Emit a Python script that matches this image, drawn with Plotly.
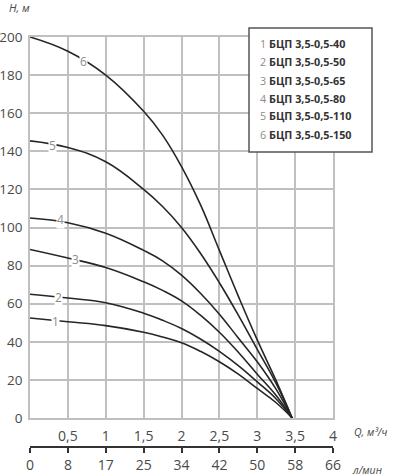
import plotly.graph_objects as go

# Data
q_m3h = [0, 0.5, 1.0, 1.5, 1.75, 2.0, 2.25, 2.5, 2.75, 3.0, 3.25, 3.46]
curves = {
    "1": [52.5, 50.5, 48.5, 45, 42.5, 39.5, 35, 29.5, 23, 15.5, 8, 0],
    "2": [65, 63, 60.5, 55, 51.3, 47, 41.5, 35, 27.5, 19, 10, 0],
    "3": [88.5, 84, 79, 71.5, 67, 61.5, 54, 45, 34.5, 23, 11.8, 0],
    "4": [105, 102.5, 97, 88, 82.5, 75, 65.5, 54.5, 42, 29.5, 15, 0],
    "5": [145.5, 142, 134.5, 120, 111, 100, 86.5, 71, 54, 36, 18, 0],
    "6": [200, 192.5, 180, 161, 148.5, 132, 112, 88, 64, 41, 19.5, 0],
}
model_names = ["БЦП 3,5-0,5-40", "БЦП 3,5-0,5-50", "БЦП 3,5-0,5-65",
               "БЦП 3,5-0,5-80", "БЦП 3,5-0,5-110", "БЦП 3,5-0,5-150"]
# curve number label anchor (Q, H)
label_q = [0.34, 0.38, 0.60, 0.40, 0.30, 0.70]
label_h = [50.5, 63.5, 83, 104, 143, 187]

x_ticks = [0, 0.5, 1, 1.5, 2, 2.5, 3, 3.5, 4]
x_ticktext = ["", "0,5", "1", "1,5", "2", "2,5", "3", "3,5", "4"]
lmin_ticktext = ["0", "8", "17", "25", "34", "42", "50", "58", "66"]

W, H = 394, 476
ML, MR, MT, MB = 30, 61, 37, 29
PW, PH = W - ML - MR, H - MT - MB


def px(xpix):
    return (xpix - ML) / PW


def py(ypix):
    return (H - MB - ypix) / PH


FONT = "Open Sans"
GRID = "#c0c0c0"
TXT = "#4a4a4a"

fig = go.Figure()
for name, vals in curves.items():
    fig.add_trace(go.Scatter(x=q_m3h, y=vals, mode="lines",
                             line=dict(color="#262626", width=1.6, shape="spline", smoothing=1.2),
                             hoverinfo="skip", showlegend=False))
# dummy trace for second (l/min) axis
fig.add_trace(go.Scatter(x=[0, 4], y=[None, None], xaxis="x2", yaxis="y",
                         mode="markers", showlegend=False, hoverinfo="skip"))

for i, k in enumerate(curves):
    fig.add_annotation(x=label_q[i], y=label_h[i], text=k, showarrow=False,
                       font=dict(family=FONT, size=12, color="#8c8c8c"),
                       bgcolor="white", borderpad=0)

y_dom0 = py(418)
fig.update_layout(
    template="none",
    width=W, height=H, margin=dict(l=ML, r=MR, t=MT, b=MB, autoexpand=False),
    paper_bgcolor="white", plot_bgcolor="white",
    font=dict(family=FONT, color=TXT),
    xaxis=dict(range=[0, 4], tickvals=x_ticks, ticktext=x_ticktext,
               showgrid=True, gridcolor=GRID, gridwidth=1.7,
               showline=True, mirror=True, linecolor=GRID, linewidth=1.7,
               zeroline=False, ticks="", ticklabelstandoff=4, automargin=False,
               tickfont=dict(size=14, color=TXT), anchor="y"),
    xaxis2=dict(range=[0, 4], tickvals=x_ticks, ticktext=lmin_ticktext,
                overlaying="x", anchor="free", position=0, side="bottom",
                showgrid=False, zeroline=False, showline=True, automargin=False,
                linecolor="#333333", linewidth=1.6, ticks="outside",
                ticklen=5, tickwidth=1.6, tickcolor="#333333",
                tickfont=dict(size=14, color=TXT)),
    yaxis=dict(range=[0, 200], dtick=20, domain=[y_dom0, 1],
               showgrid=True, gridcolor=GRID, gridwidth=1.7,
               showline=True, mirror=True, linecolor=GRID, linewidth=1.7,
               zeroline=False, ticks="", ticklabelstandoff=3, automargin=False,
               tickfont=dict(size=13.5, color=TXT)),
)

# axis titles
fig.add_annotation(xref="paper", yref="paper", x=px(7), y=py(8), xanchor="left", yanchor="middle",
                   text="<i>H, м</i>", showarrow=False, font=dict(family=FONT, size=11, color=TXT))
fig.add_annotation(xref="paper", yref="paper", x=px(352), y=py(432), xanchor="left", yanchor="middle",
                   text="<i>Q, м³/ч</i>", showarrow=False, font=dict(family=FONT, size=10.5, color=TXT))
fig.add_annotation(xref="paper", yref="paper", x=px(350), y=py(470), xanchor="left", yanchor="middle",
                   text="<i>л/мин</i>", showarrow=False, font=dict(family=FONT, size=10.5, color=TXT))

# legend box
fig.add_shape(type="rect", xref="paper", yref="paper", x0=px(249), x1=px(372), y0=py(152), y1=py(28),
              line=dict(color="#555555", width=1.5), fillcolor="white", layer="above")
row_y = [43, 61.5, 80, 98, 116, 134.5]
for i, nm in enumerate(model_names):
    fig.add_annotation(xref="paper", yref="paper", x=px(258), y=py(row_y[i]), xanchor="left", yanchor="middle",
                       text=f"<span style='color:#8c8c8c'>{i+1}</span> <b>{nm}</b>", showarrow=False,
                       font=dict(family=FONT, size=10.8, color="#333333"))

fig.write_html("out.html", config={"displayModeBar": False},
               post_script="document.body.style.margin='0';document.body.style.overflow='hidden';")
